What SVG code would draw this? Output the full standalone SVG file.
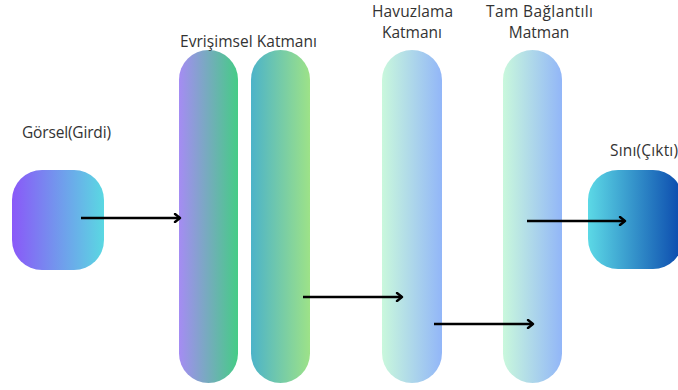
<svg xmlns="http://www.w3.org/2000/svg" width="678" height="390" viewBox="0 0 678 390">
  <defs>
    <linearGradient id="gInput" x1="0" y1="0" x2="1" y2="0">
      <stop offset="0" stop-color="#8a58f8"/>
      <stop offset="1" stop-color="#5ad8e2"/>
    </linearGradient>
    <linearGradient id="gConv1" x1="0" y1="0" x2="1" y2="0">
      <stop offset="0" stop-color="#a58cf3"/>
      <stop offset="1" stop-color="#45cc86"/>
    </linearGradient>
    <linearGradient id="gConv2" x1="0" y1="0" x2="1" y2="0">
      <stop offset="0" stop-color="#4cb3c9"/>
      <stop offset="1" stop-color="#9de288"/>
    </linearGradient>
    <linearGradient id="gPool" x1="0" y1="0" x2="1" y2="0">
      <stop offset="0" stop-color="#c9f8dc"/>
      <stop offset="1" stop-color="#92b6f8"/>
    </linearGradient>
    <linearGradient id="gOut" x1="0" y1="0" x2="1" y2="0">
      <stop offset="0" stop-color="#5cd9e6"/>
      <stop offset="1" stop-color="#0a48ad"/>
    </linearGradient>
    <marker id="arrow" viewBox="0 0 10 10" refX="8" refY="5" markerWidth="10" markerHeight="10" markerUnits="userSpaceOnUse" orient="auto">
      <path d="M3 1 L8 5 L3 9" fill="none" stroke="#000" stroke-width="2.4" stroke-linecap="round" stroke-linejoin="round"/>
    </marker>
  </defs>
  <style>
    .lbl { font-family: "Open Sans", "Liberation Sans", sans-serif; font-size: 15.5px; fill: #333; }
    .conn { stroke: #000; stroke-width: 2.6; fill: none; marker-end: url(#arrow); }
  </style>
  <rect width="678" height="390" fill="#fff"/>

  <g id="input">
    <rect x="12" y="170" width="92" height="100" rx="30" ry="30" fill="url(#gInput)"/>
    <text class="lbl" x="22" y="138" textLength="89">Görsel(Girdi)</text>
  </g>

  <g id="conv">
    <rect x="179" y="50" width="59" height="333" rx="29.5" ry="29.5" fill="url(#gConv1)"/>
    <rect x="251" y="50" width="59" height="333" rx="29.5" ry="29.5" fill="url(#gConv2)"/>
    <text class="lbl" x="180" y="47" textLength="137">Evrişimsel Katmanı</text>
  </g>

  <g id="pool">
    <rect x="382" y="50" width="60" height="333" rx="30" ry="30" fill="url(#gPool)"/>
    <text class="lbl" x="372" y="17" textLength="81">Havuzlama</text>
    <text class="lbl" x="412" y="38" text-anchor="middle">Katmanı</text>
  </g>

  <g id="dense">
    <rect x="503" y="50" width="59" height="333" rx="29.5" ry="29.5" fill="url(#gPool)"/>
    <text class="lbl" x="486" y="17" textLength="107">Tam Bağlantılı</text>
    <text class="lbl" x="539" y="38" text-anchor="middle">Matman</text>
  </g>

  <g id="output">
    <rect x="588" y="170" width="95" height="99" rx="30" ry="30" fill="url(#gOut)"/>
    <text class="lbl" x="610" y="156" textLength="68">Sını(Çıktı)</text>
  </g>

  <g id="connectors">
    <line class="conn" x1="81" y1="218" x2="180" y2="218"/>
    <line class="conn" x1="303" y1="297" x2="402" y2="297"/>
    <line class="conn" x1="434" y1="324" x2="533" y2="324"/>
    <line class="conn" x1="527" y1="221" x2="625" y2="221"/>
  </g>
</svg>
